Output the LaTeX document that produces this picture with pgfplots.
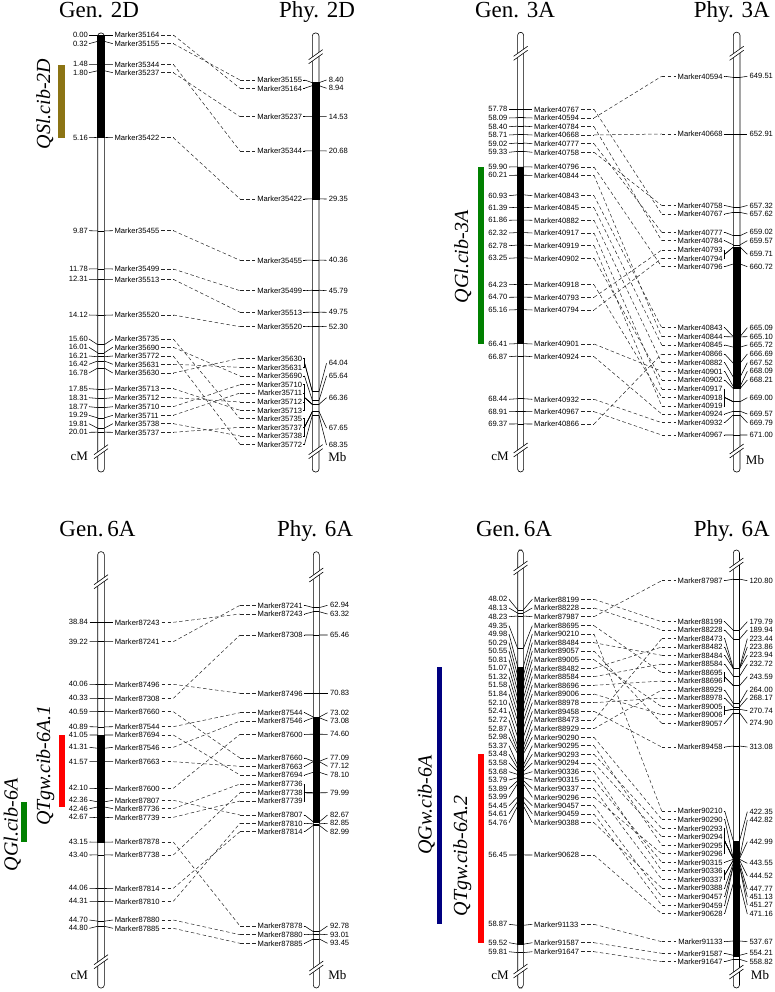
\documentclass[border=0pt]{standalone}
\usepackage{fontspec}
\setmainfont{Liberation Serif}
\newfontfamily\lsans{Liberation Sans}
\usepackage{pgfplots}
\usepackage{pgfplotstable}
\pgfplotsset{compat=1.18}

\definecolor{qolive}{RGB}{140,116,20}
\definecolor{qgreen}{RGB}{0,128,0}
\definecolor{qred}{RGB}{255,0,0}
\definecolor{qnavy}{RGB}{0,0,128}

\pgfplotsset{
  page/.style={width=774pt,height=992pt,scale only axis,xmin=0,xmax=774,ymin=0,ymax=992,
    y dir=reverse,axis lines=none,clip=false},
  tk/.style={black,line width=0.55pt,mark=none},
  cn/.style={black!85,line width=0.5pt,dash pattern=on 3.5pt off 2.5pt,mark=none},
  lbl/.style={draw=none,mark=none,nodes near coords,point meta=explicit symbolic,
    every node near coord/.append style={font=\lsans\fontsize{7.6}{8}\selectfont,inner sep=0pt,text=black}},
  chromo/.style={fill=white,draw=black,line width=0.6pt,rounded corners=3pt,mark=none},
}

% ---------------- data ----------------
% name, cM, gen label y, phy label y, Mb, bracket mid y
\pgfplotstableread{
name cm gl pl mb pm
Marker35164 0.00 35 88.3 8.94 88.3
Marker35155 0.32 43.7 80 8.40 80
Marker35344 1.48 64.3 151 20.68 151
Marker35237 1.80 72.7 116.7 14.53 116.7
Marker35422 5.16 137.7 199 29.35 199
Marker35455 9.87 230.7 260.3 40.36 260.3
Marker35499 11.78 269 290.7 45.79 290.7
Marker35513 12.31 279.3 312.3 49.75 312.3
Marker35520 14.12 315 326.7 52.30 326.7
Marker35735 15.60 339 418.7 67.65 427.3
Marker35690 16.01 347.3 376 65.64 376
Marker35772 16.21 356 444.3 68.35 444.3
Marker35631 16.42 364.3 367.3 64.04 362.8
Marker35630 16.78 373 358.3 64.04 362.8
Marker35713 17.85 388.7 410.3 66.36 397.5
Marker35712 18.31 397.7 402 66.36 397.5
Marker35710 18.77 406.7 384.7 66.36 397.5
Marker35711 19.29 415.3 393 66.36 397.5
Marker35738 19.81 423.7 436 67.65 427.3
Marker35737 20.01 432.3 427.3 67.65 427.3
}\tA
\pgfplotstableread{
nl mb
80 8.40
88.3 8.94
116.7 14.53
151 20.68
199 29.35
260.3 40.36
290.7 45.79
312.3 49.75
326.7 52.30
363.3 64.04
376 65.64
397.7 66.36
428 67.65
445 68.35
}\nA

\pgfplotstableread{
name cm gl pl mb pm
Marker40767 57.78 109.3 214 657.62 214
Marker40594 58.09 118 76.3 649.51 76.3
Marker40784 58.40 126.7 240.7 659.57 240.7
Marker40668 58.71 135 134 652.91 134
Marker40777 59.02 143.7 232.3 659.02 232.3
Marker40758 59.33 152.3 205.5 657.32 205.5
Marker40796 59.90 167 266.7 660.72 266.7
Marker40844 60.21 175.3 336.7 665.10 336.7
Marker40843 60.93 195.7 327.7 665.09 327.7
Marker40845 61.39 207.7 345 665.72 345
Marker40882 61.86 220.3 362.7 667.52 362.7
Marker40917 62.32 233 389 669.00 397.5
Marker40919 62.78 245.7 406 669.00 397.5
Marker40902 63.25 258.3 380 668.21 380
Marker40918 64.23 284.7 397.3 669.00 397.5
Marker40793 64.70 297.3 250 659.71 254.2
Marker40794 65.16 310 258.3 659.71 254.2
Marker40901 66.41 344 371.3 668.09 371.3
Marker40924 66.87 356.7 414 669.57 414
Marker40932 68.44 399.3 422.7 669.79 422.7
Marker40967 68.91 411.7 435 671.00 435
Marker40866 69.37 424 354 666.69 354
}\tB
\pgfplotstableread{
nl mb
76.3 649.51
134 652.91
205.5 657.32
214 657.62
232.3 659.02
240.7 659.57
254.2 659.71
266.7 660.72
327.7 665.09
336.7 665.10
345 665.72
354 666.69
362.7 667.52
371.3 668.09
380 668.21
397.7 669.00
414 669.57
422.7 669.79
435 671.00
}\nB

\pgfplotstableread{
name cm gl pl mb pm
Marker87243 38.84 622.3 614 63.32 614
Marker87241 39.22 641.7 605.3 62.94 605.3
Marker87496 40.06 684.3 693.3 70.83 693.3
Marker87308 40.33 698.3 635 65.46 635
Marker87660 40.59 711.7 758 77.09 758
Marker87544 40.89 726.7 712.7 73.02 712.7
Marker87694 41.05 735 775 78.10 775
Marker87546 41.31 747.3 721 73.08 721
Marker87663 41.57 761.7 766.3 77.12 766.3
Marker87600 42.10 788.3 734.3 74.60 734.3
Marker87807 42.36 800.3 815 82.67 815
Marker87736 42.46 808.7 784 79.99 792.7
Marker87739 42.67 817.3 801 79.99 792.7
Marker87878 43.15 842 926 92.78 926
Marker87738 43.40 855 792.7 79.99 792.7
Marker87814 44.06 888.3 831.7 82.99 831.7
Marker87810 44.31 901.3 823.3 82.85 823.3
Marker87880 44.70 920 934.7 93.01 934.7
Marker87885 44.80 928.3 943.3 93.45 943.3
}\tC
\pgfplotstableread{
nl mb
605.3 62.94
614 63.32
635 65.46
693.3 70.83
712.7 73.02
721 73.08
734.3 74.60
758 77.09
766.3 77.12
775 78.10
792.7 79.99
815 82.67
823.3 82.85
831.7 82.99
926 92.78
934.7 93.01
943.3 93.45
}\nC

\pgfplotstableread{
name cm gl pl mb pm
Marker88199 48.02 599.3 621.7 179.79 621.7
Marker88228 48.13 608 630 189.94 630
Marker87987 48.23 616.7 580.7 120.80 580.7
Marker88695 49.35 625.7 672.7 243.59 676.9
Marker90210 49.98 634 811 422.35 811
Marker88484 50.29 642.7 655.3 223.94 655.3
Marker89057 50.55 651 723.3 274.90 723.3
Marker89005 50.81 659.7 706.7 270.74 710.7
Marker88482 51.07 668.3 647 223.86 647
Marker88584 51.32 676.7 664 232.72 664
Marker88696 51.58 685.3 681 243.59 676.9
Marker89006 51.84 694 714.7 270.74 710.7
Marker88978 52.10 702.7 698 268.17 698
Marker89458 52.41 711.3 747 313.08 747
Marker88473 52.72 720 638.7 223.44 638.7
Marker88929 52.87 728.7 690 264.00 690
Marker90290 52.98 737.3 819.3 442.82 819.3
Marker90295 53.37 745.7 845.3 442.99 841
Marker90293 53.48 754.3 828.3 442.99 841
Marker90294 53.58 763 836.7 442.99 841
Marker90336 53.68 771.7 870.7 444.52 875
Marker90315 53.79 780 862.3 443.55 862.3
Marker90337 53.89 788.7 879.3 444.52 875
Marker90296 53.99 797.3 853.7 442.99 841
Marker90457 54.45 805.7 896.7 451.13 896.7
Marker90459 54.61 814 905.3 451.27 905.3
Marker90388 54.76 822.7 888 447.77 888
Marker90628 56.45 855 913.7 471.16 913.7
Marker91133 58.87 924.3 941.7 537.67 941.7
Marker91587 59.52 942.7 953.3 554.21 953.3
Marker91647 59.81 951.7 961.7 558.82 961.7
}\tD
\pgfplotstableread{
nl mb
580.7 120.80
621.7 179.79
630 189.94
638.7 223.44
647 223.86
655.3 223.94
664 232.72
676.7 243.59
690 264.00
698 268.17
710.7 270.74
723.3 274.90
747 313.08
811.7 422.35
820 442.82
841.7 442.99
863.3 443.55
876 444.52
889 447.77
896.7 451.13
905 451.27
914 471.16
941.7 537.67
953.3 554.21
961.7 558.82
}\nD

% ---------------- helpers ----------------
\def\GT{(\gA+\gB*(\thisrow{cm}-\gV))}
\def\PT{(\pA+\pB*(\thisrow{mb}-\pV))}

\newcommand\chrom[4]{% cx hw top bottom
  \pgfmathsetmacro\xl{#1-#2}\pgfmathsetmacro\xr{#1+#2}%
  \edef\tmp{\noexpand\addplot[chromo] coordinates {(#1,#3) (\xr,#3) (\xr,#4) (\xl,#4) (\xl,#3) (#1,#3)};}\tmp}
\newcommand\blk[4]{% cx hw y1 y2
  \pgfmathsetmacro\xl{#1-#2}\pgfmathsetmacro\xr{#1+#2}%
  \edef\tmp{\noexpand\addplot[fill=black,draw=black,line width=0.5pt,mark=none] coordinates {(\xl,#3) (\xr,#3) (\xr,#4) (\xl,#4) (\xl,#3)};}\tmp}
\newcommand\brk[2]{% cx cy
  \pgfmathsetmacro\ax{#1-7}\pgfmathsetmacro\bx{#1+7}%
  \pgfmathsetmacro\ya{#2+3}\pgfmathsetmacro\yb{#2-7}\pgfmathsetmacro\yc{#2-3}\pgfmathsetmacro\yd{#2+7}%
  \edef\tmp{\noexpand\addplot[fill=white,draw=none,mark=none] coordinates {(\ax,\ya) (\bx,\yb) (\bx,\yc) (\ax,\yd) (\ax,\ya)};
    \noexpand\addplot[black,line width=0.6pt,mark=none] coordinates {(\ax,\ya) (\bx,\yb)};
    \noexpand\addplot[black,line width=0.6pt,mark=none] coordinates {(\ax,\yd) (\bx,\yc)};}\tmp}
\newcommand\qbar[5]{% color x1 x2 y1 y2
  \addplot[fill=#1,draw=none,mark=none] coordinates {(#2,#4) (#3,#4) (#3,#5) (#2,#5)};}

\newcommand\drawpanel[2]{%
\addplot[tk, quiver={u=\gCL-\gTickL, v=\GT-\thisrow{gl}}] table[x expr=\gTickL, y=gl]{#1};
\addplot[tk, quiver={u=\gCR-\gCL, v=0}] table[x expr=\gCL, y expr=\GT]{#1};
\addplot[tk, quiver={u=\gTickR-\gCR, v=\thisrow{gl}-\GT}] table[x expr=\gCR, y expr=\GT]{#1};
\addplot[cn, quiver={u=\dB-\dA, v=0}] table[x expr=\dA, y=gl]{#1};
\addplot[cn, quiver={u=\dC-\dB, v=\thisrow{pl}-\thisrow{gl}}] table[x expr=\dB, y=gl]{#1};
\addplot[cn, quiver={u=\dD-\dC, v=0}] table[x expr=\dC, y=pl]{#1};
\addplot[tk, quiver={u=\pBr-\pNameR-0.8, v=0}] table[x expr=\pNameR+0.8, y=pl]{#1};
\addplot[tk, quiver={u=0, v=\thisrow{pm}-\thisrow{pl}}] table[x expr=\pBr, y=pl]{#1};
\addplot[tk, quiver={u=\pCL-\pBr, v=\PT-\thisrow{pm}}] table[x expr=\pBr, y=pm]{#1};
\addplot[tk, quiver={u=\pCR-\pCL, v=0}] table[x expr=\pCL, y expr=\PT]{#1};
\addplot[tk, quiver={u=\pTickR-\pCR, v=\thisrow{nl}-\PT}] table[x expr=\pCR, y expr=\PT]{#2};
\addplot[lbl, every node near coord/.append style={anchor=east}] table[x expr=\gNumR, y=gl, meta=cm]{#1};
\addplot[lbl, every node near coord/.append style={anchor=west}] table[x expr=\gNameL, y=gl, meta=name]{#1};
\addplot[lbl, every node near coord/.append style={anchor=east}] table[x expr=\pNameR, y=pl, meta=name]{#1};
\addplot[lbl, every node near coord/.append style={anchor=west}] table[x expr=\pNumL, y=nl, meta=mb]{#2};
}

\newcommand\ttl{\fontsize{23}{27}\selectfont}
\newcommand\qtl{\fontsize{20}{24}\selectfont\itshape}
\newcommand\unit{\fontsize{13}{15}\selectfont}

\begin{document}
\begin{tikzpicture}
\useasboundingbox (0,0) rectangle (774pt,992pt);

% ================= Panel 1 : 2D =================
\def\gNumR{88}\def\gTickL{89}\def\gCL{97.7}\def\gCR{104.3}\def\gTickR{112.8}\def\gNameL{114.3}
\def\dA{161}\def\dB{173.3}\def\dC{240}\def\dD{255}
\def\pNameR{302.3}\def\pBr{304.5}\def\pCL{312.3}\def\pCR{319}\def\pTickR{326.5}\def\pNumL{328.7}
\def\gA{35}\def\gB{19.85}\def\gV{0}
\def\pA{36.06}\def\pB{5.55}\def\pV{0}
\begin{axis}[page]
\chrom{101}{3.3}{33}{472}
\chrom{315.65}{3.35}{33}{472}
\blk{101}{3.3}{36}{137.5}
\blk{315.65}{3.35}{82.7}{199}
\qbar{qolive}{57.7}{65}{65.3}{138.3}
\drawpanel{\tA}{\nA}
\brk{101}{451.7}
\brk{315.65}{56.7}
\brk{315.65}{451.7}
\node[anchor=base,font=\ttl] at (axis cs:99,17.6) {Gen. 2D};
\node[anchor=base,font=\ttl] at (axis cs:317,17.6) {Phy. 2D};
\node[rotate=90,anchor=base,font=\qtl] at (axis cs:50,104) {QSl.cib-2D};
\node[font=\unit] at (axis cs:79.3,456.7) {cM};
\node[font=\unit] at (axis cs:337.3,456.7) {Mb};
\end{axis}

% ================= Panel 2 : 3A =================
\def\gNumR{507.5}\def\gTickL{509}\def\gCL{517.6}\def\gCR{523.6}\def\gTickR{532.3}\def\gNameL{534}
\def\dA{581}\def\dB{594}\def\dC{661.7}\def\dD{675.5}
\def\pNameR{722.7}\def\pBr{724.7}\def\pCL{733.3}\def\pCR{740}\def\pTickR{747.3}\def\pNumL{749.5}
\def\gA{109.3}\def\gB{27.15}\def\gV{57.78}
\def\pA{134}\def\pB{16.64}\def\pV{652.91}
\begin{axis}[page]
\chrom{520.6}{3}{32.3}{472}
\chrom{736.65}{3.35}{32.3}{472}
\blk{520.6}{3}{167}{343.6}
\blk{736.65}{3.35}{247.2}{388}
\qbar{qgreen}{478.3}{484.3}{166.7}{344}
\drawpanel{\tB}{\nB}
\brk{520.6}{53.3}
\brk{520.6}{450}
\brk{736.65}{53.3}
\brk{736.65}{451}
\node[anchor=base,font=\ttl] at (axis cs:515,17.6) {Gen. 3A};
\node[anchor=base,font=\ttl] at (axis cs:731.7,17.6) {Phy. 3A};
\node[rotate=90,anchor=base,font=\qtl] at (axis cs:468,257) {QGl.cib-3A};
\node[font=\unit] at (axis cs:500,456) {cM};
\node[font=\unit] at (axis cs:755,460) {Mb};
\end{axis}

% ================= Panel 3 : 6A (left) =================
\def\gNumR{88}\def\gTickL{89.5}\def\gCL{97.7}\def\gCR{104.3}\def\gTickR{113}\def\gNameL{114.7}
\def\dA{161.5}\def\dB{173.3}\def\dC{240}\def\dD{256}
\def\pNameR{302.7}\def\pBr{304.7}\def\pCL{313.3}\def\pCR{319.3}\def\pTickR{327.5}\def\pNumL{330}
\def\gA{622.3}\def\gB{51.0}\def\gV{38.84}
\def\pA{693.3}\def\pB{10.86}\def\pV{70.83}
\begin{axis}[page]
\chrom{101}{3.3}{551.7}{988}
\chrom{316.3}{3}{551.7}{988}
\blk{101}{3.3}{735}{842}
\blk{316.3}{3}{717}{822}
\qbar{qred}{59.3}{65}{735}{806.7}
\qbar{qgreen}{21}{26.7}{801.7}{841.7}
\drawpanel{\tC}{\nC}
\brk{101}{581.7}
\brk{101}{961.7}
\brk{316.3}{575}
\brk{316.3}{968}
\node[anchor=base,font=\ttl] at (axis cs:97.5,536) {Gen.\,6A};
\node[anchor=base,font=\ttl] at (axis cs:315,536) {Phy. 6A};
\node[rotate=90,anchor=base,font=\qtl] at (axis cs:50,765.5) {QTgw.cib-6A.1};
\node[rotate=90,anchor=base,font=\qtl] at (axis cs:17.5,825) {QGl.cib-6A};
\node[font=\unit] at (axis cs:79.3,975) {cM};
\node[font=\unit] at (axis cs:337.3,975) {Mb};
\end{axis}

% ================= Panel 4 : 6A (right) =================
\def\gNumR{507.5}\def\gTickL{509}\def\gCL{517.7}\def\gCR{523.3}\def\gTickR{532.3}\def\gNameL{534}
\def\dA{581}\def\dB{594}\def\dC{661.7}\def\dD{675.5}
\def\pNameR{722.7}\def\pBr{724.7}\def\pCL{733.3}\def\pCR{739.5}\def\pTickR{747.3}\def\pNumL{749.3}
\def\gA{616}\def\gB{29.07}\def\gV{48.23}
\def\pA{746}\def\pB{0.868}\def\pV{313.08}
\begin{axis}[page]
\chrom{520.5}{2.8}{550}{988}
\chrom{736.4}{3.1}{550}{988}
\blk{520.5}{2.8}{667}{944}
\blk{736.4}{3.1}{841}{956}
\qbar{qnavy}{436.7}{442.3}{666.7}{924}
\qbar{qred}{478.3}{484.3}{754}{943.3}
\drawpanel{\tD}{\nD}
\brk{520.5}{568}
\brk{520.5}{971}
\brk{736.4}{565}
\brk{736.4}{972}
\node[anchor=base,font=\ttl] at (axis cs:514,536) {Gen.\,6A};
\node[anchor=base,font=\ttl] at (axis cs:731.7,536) {Phy. 6A};
\node[rotate=90,anchor=base,font=\qtl] at (axis cs:431.7,805) {QGw.cib-6A};
\node[rotate=90,anchor=base,font=\qtl] at (axis cs:467,856) {QTgw.cib-6A.2};
\node[font=\unit] at (axis cs:500,975) {cM};
\node[font=\unit] at (axis cs:760,975) {Mb};
\end{axis}
\end{tikzpicture}
\end{document}
